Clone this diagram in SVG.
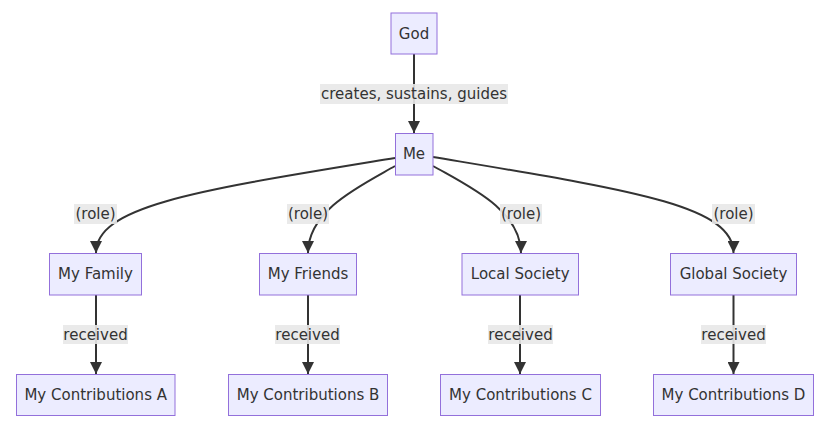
<svg xmlns="http://www.w3.org/2000/svg" width="828" height="428" viewBox="0 0 828 428">
<style>
.node rect{fill:#ECECFF;stroke:#9370DB;stroke-width:1}
text{font-family:"DejaVu Sans","Open Sans","Liberation Sans",sans-serif;font-size:15px;fill:#333;text-anchor:middle;dominant-baseline:central}
.edge{fill:none;stroke:#333;stroke-width:2}
.lbl rect{fill:#e8e8e8;opacity:0.9}
</style>
<defs>
<marker id="ah" viewBox="0 0 10 10" refX="10" refY="5" markerWidth="12" markerHeight="12" markerUnits="userSpaceOnUse" orient="auto">
<path d="M0,0 L10,5 L0,10 z" fill="#333"/>
</marker>
</defs>
<rect width="828" height="428" fill="#fff"/>
<g id="connectors">
<path class="edge" marker-end="url(#ah)" d="M414,54 L414,133"/>
<path class="edge" marker-end="url(#ah)" d="M395,158 C200,190 96,205 96,253"/>
<path class="edge" marker-end="url(#ah)" d="M395,166 C360,186 308,210 308,253"/>
<path class="edge" marker-end="url(#ah)" d="M433,166 C468,186 521,210 521,253"/>
<path class="edge" marker-end="url(#ah)" d="M433,157 C630,190 733.5,205 733.5,253"/>
<path class="edge" marker-end="url(#ah)" d="M96,295 L96,374"/>
<path class="edge" marker-end="url(#ah)" d="M308,295 L308,374"/>
<path class="edge" marker-end="url(#ah)" d="M520,295 L520,374"/>
<path class="edge" marker-end="url(#ah)" d="M733.5,295 L733.5,374"/>
<g class="lbl">
<rect x="320" y="84" width="188" height="20"/><text x="414" y="94">creates, sustains, guides</text>
<rect x="74" y="204" width="43" height="20"/><text x="95.5" y="214">(role)</text>
<rect x="287" y="204" width="42" height="20"/><text x="308" y="214">(role)</text>
<rect x="500" y="204" width="42" height="20"/><text x="521" y="214">(role)</text>
<rect x="712" y="204" width="43" height="20"/><text x="733.5" y="214">(role)</text>
<rect x="63" y="325" width="65" height="19"/><text x="95.5" y="334.5">received</text>
<rect x="275" y="325" width="65" height="19"/><text x="307.5" y="334.5">received</text>
<rect x="488" y="325" width="65" height="19"/><text x="520.5" y="334.5">received</text>
<rect x="701" y="325" width="65" height="19"/><text x="733.5" y="334.5">received</text>
</g>
</g>
<g id="god" class="node"><rect x="391" y="13" width="46" height="41"/><text x="414" y="33.5">God</text></g>
<g id="me" class="node"><rect x="395.5" y="133.5" width="37.5" height="41.5"/><text x="414" y="154">Me</text></g>
<g id="family" class="node"><rect x="49.5" y="253.5" width="92" height="41.5"/><text x="95.5" y="274">My Family</text></g>
<g id="friends" class="node"><rect x="259.5" y="253.5" width="97" height="41.5"/><text x="308" y="274">My Friends</text></g>
<g id="local" class="node"><rect x="462" y="253.5" width="116.5" height="41.5"/><text x="520.2" y="274">Local Society</text></g>
<g id="global" class="node"><rect x="670.5" y="253.5" width="126" height="41.5"/><text x="733.5" y="274">Global Society</text></g>
<g id="contribA" class="node"><rect x="16.5" y="374.5" width="158.5" height="41"/><text x="95.7" y="395">My Contributions A</text></g>
<g id="contribB" class="node"><rect x="228.5" y="374.5" width="159" height="41"/><text x="308" y="395">My Contributions B</text></g>
<g id="contribC" class="node"><rect x="440.5" y="374.5" width="160" height="41"/><text x="520.5" y="395">My Contributions C</text></g>
<g id="contribD" class="node"><rect x="653.5" y="374.5" width="160" height="41"/><text x="733.5" y="395">My Contributions D</text></g>
</svg>
